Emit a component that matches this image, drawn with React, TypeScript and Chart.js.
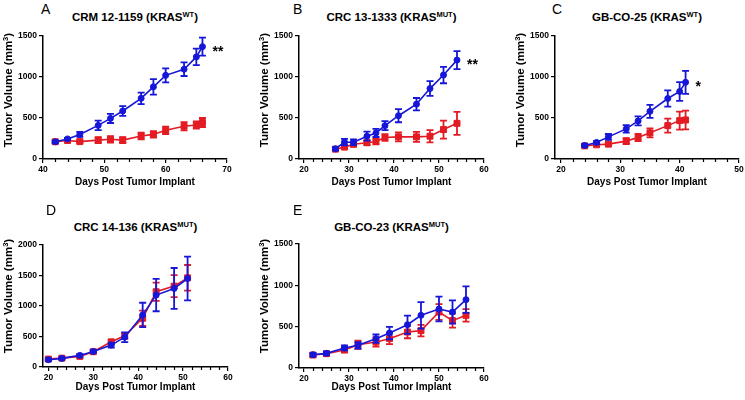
import React, { useEffect, useRef } from 'react';
import { Chart, registerables } from 'chart.js';

Chart.register(...registerables);

const FONT = '"Liberation Sans", Arial, Helvetica, sans-serif';
const BLUE = '#1616d8';
const RED = '#e31b23';

// ---------- data ----------
const yTicks1500 = [0, 500, 1000, 1500];
const yTicks2000 = [0, 500, 1000, 1500, 2000];

// Panel A: CRM 12-1159
const xTicksA = [40, 50, 60, 70];
const daysA = [42, 44, 46, 49, 51, 53, 56, 58, 60, 63, 65, 66];
const controlA = [210, 245, 300, 410, 495, 585, 740, 880, 1020, 1095, 1245, 1370];
const controlErrA = [15, 12, 30, 58, 56, 60, 70, 95, 85, 83, 100, 110];
const treatedA = [210, 225, 212, 230, 240, 230, 280, 300, 350, 400, 415, 445];
const treatedErrA = [15, 15, 15, 35, 40, 35, 40, 40, 45, 50, 45, 55];

// Panel B: CRC 13-1333
const xTicksB = [20, 30, 40, 50, 60];
const daysB = [27, 29, 31, 34, 36, 38, 41, 45, 48, 51, 54];
const controlB = [125, 205, 205, 278, 318, 407, 528, 669, 859, 1024, 1206];
const controlErrB = [20, 40, 35, 55, 50, 55, 80, 75, 90, 100, 110];
const treatedB = [120, 145, 180, 198, 214, 262, 270, 270, 278, 359, 435];
const treatedErrB = [15, 25, 30, 30, 35, 40, 55, 60, 75, 110, 140];

// Panel C: GB-CO-25
const xTicksC = [20, 30, 40, 50];
const daysC = [24, 26, 28, 31, 33, 35, 38, 40, 41];
const controlC = [165, 202, 270, 367, 464, 581, 738, 823, 935];
const controlErrC = [15, 20, 35, 45, 55, 80, 100, 115, 140];
const treatedC = [160, 173, 181, 218, 262, 319, 407, 468, 476];
const treatedErrC = [10, 15, 20, 35, 45, 55, 85, 110, 115];

// Panel D: CRC 14-136
const xTicksD = [20, 30, 40, 50, 60];
const daysD = [20, 23, 27, 30, 34, 37, 41, 44, 48, 51];
const controlD = [120, 141, 190, 255, 359, 489, 853, 1179, 1288, 1451];
const controlErrD = [20, 15, 20, 20, 40, 80, 200, 265, 335, 360];
const treatedD = [130, 145, 174, 250, 413, 511, 799, 1234, 1326, 1462];
const treatedErrD = [20, 15, 25, 20, 30, 50, 125, 150, 180, 210];

// Panel E: GB-CO-23
const xTicksE = [20, 30, 40, 50, 60];
const daysE = [22, 25, 29, 32, 36, 39, 43, 46, 50, 53, 56];
const controlE = [161, 177, 242, 274, 355, 423, 524, 637, 714, 677, 827];
const controlErrE = [20, 20, 30, 40, 50, 75, 110, 160, 150, 140, 160];
const treatedE = [157, 173, 218, 282, 315, 355, 435, 452, 677, 573, 637];
const treatedErrE = [20, 25, 30, 50, 55, 65, 75, 70, 95, 85, 75];

const xTitle = 'Days Post Tumor Implant';

// ---------- layout ----------
type Box = { left: number; top: number; width: number; height: number };
type Plot = { left: number; top: number; right: number; bottom: number };
type PanelCfg = {
  letter: string; titleMain: string; titleSup: string; sig: string;
  days: number[]; control: number[]; controlErr: number[]; treated: number[]; treatedErr: number[];
  xMin: number; xMax: number; xTicks: number[]; yMax: number; yTicks: number[];
  canvas: Box; plot: Plot; letterX: number; letterTop: number; titleBaseline: number;
  yTitleX: number; yTitleY: number;
};

const panels: PanelCfg[] = [
  {
    letter: 'A', titleMain: 'CRM 12-1159 (KRAS', titleSup: 'WT', sig: '**',
    days: daysA, control: controlA, controlErr: controlErrA, treated: treatedA, treatedErr: treatedErrA,
    xMin: 40, xMax: 70, xTicks: xTicksA, yMax: 1500, yTicks: yTicks1500,
    canvas: { left: 0, top: 25, width: 245, height: 163 }, plot: { left: 43, top: 36, right: 227, bottom: 159 },
    letterX: 41, letterTop: 1.5, titleBaseline: 21.7, yTitleX: 8, yTitleY: 90,
  },
  {
    letter: 'B', titleMain: 'CRC 13-1333 (KRAS', titleSup: 'MUT', sig: '**',
    days: daysB, control: controlB, controlErr: controlErrB, treated: treatedB, treatedErr: treatedErrB,
    xMin: 18.9, xMax: 60, xTicks: xTicksB, yMax: 1500, yTicks: yTicks1500,
    canvas: { left: 250, top: 25, width: 245, height: 163 }, plot: { left: 299, top: 36, right: 484, bottom: 159 },
    letterX: 293, letterTop: 1.5, titleBaseline: 21.7, yTitleX: 263.5, yTitleY: 90,
  },
  {
    letter: 'C', titleMain: 'GB-CO-25 (KRAS', titleSup: 'WT', sig: '*',
    days: daysC, control: controlC, controlErr: controlErrC, treated: treatedC, treatedErr: treatedErrC,
    xMin: 19, xMax: 50, xTicks: xTicksC, yMax: 1500, yTicks: yTicks1500,
    canvas: { left: 505, top: 25, width: 245, height: 163 }, plot: { left: 555, top: 36, right: 739, bottom: 159 },
    letterX: 552, letterTop: 1.5, titleBaseline: 21.7, yTitleX: 519.5, yTitleY: 90,
  },
  {
    letter: 'D', titleMain: 'CRC 14-136 (KRAS', titleSup: 'MUT', sig: '',
    days: daysD, control: controlD, controlErr: controlErrD, treated: treatedD, treatedErr: treatedErrD,
    xMin: 18.8, xMax: 60, xTicks: xTicksD, yMax: 2000, yTicks: yTicks2000,
    canvas: { left: 0, top: 235, width: 245, height: 158 }, plot: { left: 43, top: 245, right: 228, bottom: 367 },
    letterX: 46, letterTop: 203.2, titleBaseline: 231.6, yTitleX: 8, yTitleY: 295.5,
  },
  {
    letter: 'E', titleMain: 'GB-CO-23 (KRAS', titleSup: 'MUT', sig: '',
    days: daysE, control: controlE, controlErr: controlErrE, treated: treatedE, treatedErr: treatedErrE,
    xMin: 18.9, xMax: 60, xTicks: xTicksE, yMax: 1500, yTicks: yTicks1500,
    canvas: { left: 250, top: 235, width: 245, height: 158 }, plot: { left: 299, top: 244, right: 484, bottom: 368 },
    letterX: 293, letterTop: 203.2, titleBaseline: 231.6, yTitleX: 264, yTitleY: 295.5,
  },
];

// ---------- plugins ----------
const errorBarPlugin = {
  id: 'errorBars',
  beforeDatasetDraw(chart: any, args: any) {
    const ds: any = chart.data.datasets[args.index];
    if (!ds.errors) return;
    const ys = chart.scales.y;
    const ctx = chart.ctx;
    ctx.save();
    ctx.strokeStyle = ds.borderColor;
    ctx.lineWidth = 1.8;
    args.meta.data.forEach((pt: any, i: number) => {
      const v = ds.data[i].y;
      const e = ds.errors[i];
      const x = pt.x;
      const yt = ys.getPixelForValue(v + e);
      const yb = ys.getPixelForValue(v - e);
      ctx.beginPath();
      ctx.moveTo(x, yt); ctx.lineTo(x, yb);
      ctx.moveTo(x - 3.5, yt); ctx.lineTo(x + 3.5, yt);
      ctx.moveTo(x - 3.5, yb); ctx.lineTo(x + 3.5, yb);
      ctx.stroke();
    });
    ctx.restore();
  },
};

const decorPlugin = {
  id: 'decor',
  afterDraw(chart: any, _args: any, opts: any) {
    const xs = chart.scales.x;
    const ctx = chart.ctx;
    const y0 = chart.chartArea.bottom;
    ctx.save();
    ctx.strokeStyle = '#000';
    ctx.lineWidth = 1.2;
    for (let v = Math.ceil(xs.min / 2) * 2; v <= xs.max; v += 2) {
      if (v % 10 === 0) continue;
      const px = Math.round(xs.getPixelForValue(v)) + 0.5;
      ctx.beginPath();
      ctx.moveTo(px, y0);
      ctx.lineTo(px, y0 + 3);
      ctx.stroke();
    }
    if (opts && opts.sig) {
      const meta = chart.getDatasetMeta(0);
      const last = meta.data[meta.data.length - 1];
      ctx.fillStyle = '#000';
      ctx.font = 'bold 14px ' + FONT;
      ctx.textAlign = 'left';
      ctx.textBaseline = 'alphabetic';
      ctx.fillText(opts.sig, last.x + 10, last.y + 9);
    }
    ctx.restore();
  },
};

function Panel({ cfg }: { cfg: PanelCfg }) {
  const ref = useRef<HTMLCanvasElement | null>(null);
  const { canvas, plot } = cfg;

  useEffect(() => {
    if (!ref.current) return;
    const tickFont = { family: FONT, size: 8.5, weight: 'bold' as const };
    const plainLabel = (v: any) => String(v);
    const chart = new Chart(ref.current, {
      type: 'line',
      data: {
        datasets: [
          {
            label: 'Control',
            data: cfg.days.map((d, i) => ({ x: d, y: cfg.control[i] })),
            errors: cfg.controlErr,
            borderColor: BLUE,
            backgroundColor: BLUE,
            borderWidth: 1.6,
            pointStyle: 'circle',
            pointRadius: 3,
            pointBorderWidth: 1,
            tension: 0,
            clip: false,
          } as any,
          {
            label: 'Treated',
            data: cfg.days.map((d, i) => ({ x: d, y: cfg.treated[i] })),
            errors: cfg.treatedErr,
            borderColor: RED,
            backgroundColor: RED,
            borderWidth: 1.6,
            pointStyle: 'rect',
            pointRadius: 4.2,
            pointBorderWidth: 1,
            tension: 0,
            clip: false,
          } as any,
        ],
      },
      options: {
        responsive: false,
        animation: false,
        events: [],
        layout: {
          padding: {
            left: 0,
            top: plot.top - canvas.top,
            right: canvas.left + canvas.width - plot.right,
            bottom: 0,
          },
        },
        plugins: {
          legend: { display: false },
          tooltip: { enabled: false },
          decor: { sig: cfg.sig },
        } as any,
        scales: {
          x: {
            type: 'linear',
            min: cfg.xMin,
            max: cfg.xMax,
            afterBuildTicks: (s: any) => { s.ticks = cfg.xTicks.map((v) => ({ value: v })); },
            afterFit: (s: any) => { s.height = canvas.top + canvas.height - plot.bottom; },
            ticks: { font: tickFont, color: '#000', padding: 2, maxRotation: 0, autoSkip: false, callback: plainLabel },
            grid: { drawOnChartArea: false, tickLength: 4, color: '#000', lineWidth: 1.2 },
            border: { color: '#000', width: 1.5 },
            title: {
              display: true, text: xTitle, color: '#000',
              font: { family: FONT, size: 10, weight: 'bold' }, padding: { top: 0, bottom: 0 },
            },
          },
          y: {
            type: 'linear',
            min: 0,
            max: cfg.yMax,
            afterBuildTicks: (s: any) => { s.ticks = cfg.yTicks.map((v) => ({ value: v })); },
            afterFit: (s: any) => { s.width = plot.left - canvas.left; },
            ticks: { font: tickFont, color: '#000', padding: 2, autoSkip: false, callback: plainLabel },
            grid: { drawOnChartArea: false, tickLength: 4, color: '#000', lineWidth: 1.2 },
            border: { color: '#000', width: 1.5 },
          },
        },
      } as any,
      plugins: [errorBarPlugin, decorPlugin] as any,
    });
    return () => chart.destroy();
  }, [cfg]);

  const titleSize = 11.5;
  const cx = (plot.left + plot.right) / 2;
  return (
    <>
      <canvas
        ref={ref}
        width={canvas.width}
        height={canvas.height}
        style={{ position: 'absolute', left: canvas.left, top: canvas.top, width: canvas.width, height: canvas.height }}
      />
      <div style={{ position: 'absolute', left: cfg.letterX, top: cfg.letterTop, font: '14px ' + FONT, lineHeight: '14px', color: '#000' }}>
        {cfg.letter}
      </div>
      <div
        style={{
          position: 'absolute', left: cx - 150, width: 300, textAlign: 'center',
          top: cfg.titleBaseline - 0.8465 * titleSize, fontFamily: FONT, fontWeight: 'bold',
          fontSize: titleSize, lineHeight: titleSize + 'px', color: '#000', whiteSpace: 'nowrap',
        }}
      >
        {cfg.titleMain}
        <span style={{ fontSize: 7.5, position: 'relative', top: -3.5, lineHeight: 0 }}>{cfg.titleSup}</span>
        )
      </div>
      <div
        style={{
          position: 'absolute', left: cfg.yTitleX - 80, top: cfg.yTitleY - 7, width: 160, height: 14,
          lineHeight: '14px', textAlign: 'center', transform: 'rotate(-90deg)', transformOrigin: '50% 50%',
          fontFamily: FONT, fontWeight: 'bold', fontSize: 11.5, color: '#000', whiteSpace: 'nowrap',
        }}
      >
        Tumor Volume (mm<span style={{ fontSize: 7.5, position: 'relative', top: -4, lineHeight: 0 }}>3</span>)
      </div>
    </>
  );
}

export default function App() {
  return (
    <div style={{ position: 'absolute', left: 0, top: 0, width: 745, height: 400, overflow: 'hidden', background: '#fff' }}>
      {panels.map((p) => (
        <Panel key={p.letter} cfg={p} />
      ))}
    </div>
  );
}
